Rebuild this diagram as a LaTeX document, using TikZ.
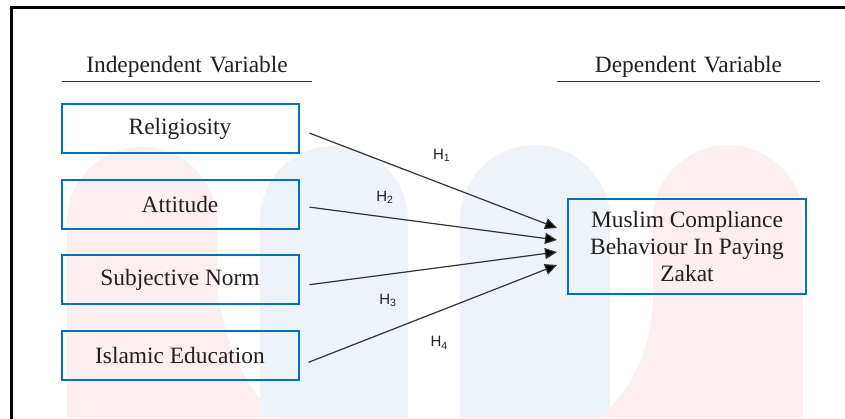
\documentclass[tikz,border=0pt]{standalone}
\usepackage{fontspec}
\setmainfont{Liberation Serif}
\newfontfamily\hfont{Liberation Sans}
\usepackage{xcolor}
\usetikzlibrary{arrows.meta, positioning}
\definecolor{boxblue}{RGB}{0,112,192}
\definecolor{wmpink}{RGB}{253,239,239}
\definecolor{wmblue}{RGB}{237,243,248}
\definecolor{txtgray}{RGB}{35,31,32}
\definecolor{linegray}{RGB}{50,50,50}

\begin{document}
\begin{tikzpicture}[x=0.5pt, y=-0.5pt, >={Triangle[length=6pt,width=5.5pt]}, node distance=37.8pt]
        % Styles
        \tikzstyle{var} = [draw=boxblue, line width=1pt, rectangle, minimum width=118.5pt, minimum height=24.5pt, font=\fontsize{11.7}{13.5}\selectfont, text=txtgray]
        \tikzstyle{dep} = [var, minimum width=119pt, minimum height=47.5pt, align=center]
        \tikzstyle{head} = [inner sep=2pt, font=\fontsize{11.7}{13.5}\selectfont, text=txtgray, align=center]
        \tikzstyle{hyp} = [font=\hfont\fontsize{7.5}{9}\selectfont, text=txtgray, inner sep=0pt]
        \tikzstyle{link} = [draw=linegray, line width=0.6pt, arrows={-Triangle[length=6pt,width=5.5pt,fill=black]}]

        \useasboundingbox (0,0) rectangle (845,418);
        \clip (0,0) rectangle (845,418);

        % Background watermark
        \fill[wmpink] (67,418) -- (67,222) arc[start angle=180, end angle=0, radius=37.5pt] -- (217,285) .. controls (224,350) and (250,392) .. (277,418) -- cycle;
        \fill[wmblue] (260,418) -- (260,220) arc[start angle=180, end angle=0, radius=37pt] -- (408,418) -- cycle;
        \fill[wmblue] (460,418) -- (460,220) arc[start angle=180, end angle=0, radius=37.5pt] -- (610,418) -- cycle;
        \fill[wmpink] (803,418) -- (803,220) arc[start angle=0, end angle=180, radius=37.5pt] -- (653,300) .. controls (650,360) and (625,395) .. (600,418) -- cycle;

        % Frame
        \draw[line width=1.3pt] (11.5,7.5) rectangle (860,430);

        % Headings
        \node[head, text width=121pt] (indep) at (187,66.5) {Independent Variable};
        \node[head, text width=127.5pt] (depv) at (688.5,66.5) {Dependent Variable};
        \draw[linegray, line width=0.75pt] (indep.south west) -- (indep.south east);
        \draw[linegray, line width=0.75pt] (depv.south west) -- (depv.south east);

        % Independent variables
        \node[var] (rel) at (180,128.5) {Religiosity};
        \node[var, below of=rel] (att) {Attitude};
        \node[var, below of=att] (subj) {Subjective Norm};
        \node[var, below of=subj] (isl) {Islamic Education};

        % Dependent variable
        \node[dep] (dvar) at (687,246.5) {Muslim Compliance\\Behaviour In Paying\\Zakat};

        % Hypotheses
        \draw[link] ([xshift=5pt, yshift=-2.3pt]rel.east) -- node[hyp, pos=0.535, yshift=14.4pt] (h1) {H\textsubscript{1}} ([xshift=-5pt, yshift=9.25pt]dvar.west);
        \draw[link] ([xshift=5pt, yshift=-1.5pt]att.east) -- node[hyp, pos=0.306, yshift=10pt] (h2) {H\textsubscript{2}} ([xshift=-5pt, yshift=3.25pt]dvar.west);
        \draw[link] ([xshift=5pt, yshift=-2.5pt]subj.east) -- node[hyp, pos=0.318, yshift=-13pt] (h3) {H\textsubscript{3}} ([xshift=-5pt, yshift=-2.75pt]dvar.west);
        \draw[link] ([xshift=4.5pt, yshift=-3.5pt]isl.east) -- node[hyp, pos=0.527, yshift=-16pt] (h4) {H\textsubscript{4}} ([xshift=-5pt, yshift=-9.25pt]dvar.west);

    \end{tikzpicture}
\end{document}
